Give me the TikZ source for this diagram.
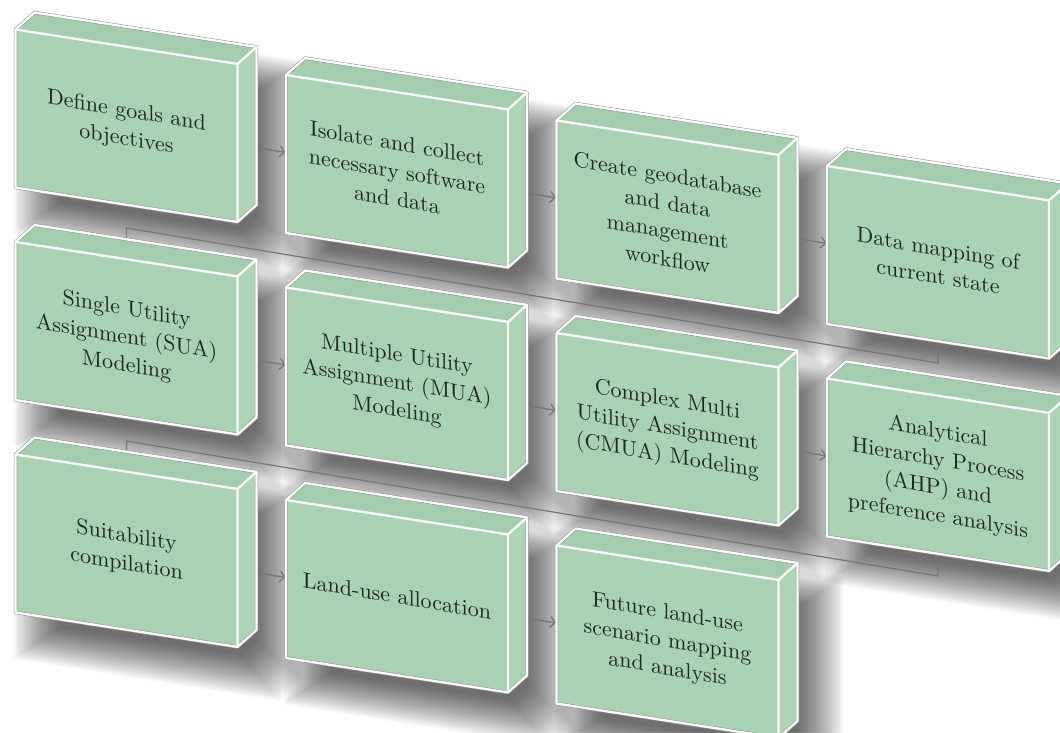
\documentclass[tikz,border=0pt]{standalone}
\usetikzlibrary{arrows.meta}
\DeclareFontFamily{TU}{lmten}{}
\DeclareFontShape{TU}{lmten}{m}{n}{<-> "[lmroman10-regular]:+tlig;"}{}
\definecolor{frontc}{RGB}{168,210,178}
\definecolor{topc}{RGB}{162,206,173}
\definecolor{sidec}{RGB}{172,213,182}
\definecolor{txtc}{RGB}{30,40,30}
\definecolor{conc}{RGB}{118,118,118}
\definecolor{edgec}{RGB}{150,150,150}
\pgfdeclarelayer{bglayer}
\pgfdeclarelayer{shadowlayer}
\pgfdeclarelayer{connlayer}
\pgfsetlayers{bglayer,shadowlayer,connlayer,main}
\tikzset{
  boxtext/.style={align=center, text=txtc, inner sep=0pt,
    font=\fontfamily{lmten}\fontsize{22}{28}\selectfont, yslant=-0.17},
  facefront/.style={fill=frontc},
  facetop/.style={fill=topc},
  faceside/.style={fill=sidec},
  rimouter/.style={draw=edgec, line width=3.4pt, line join=round},
  rimwhite/.style={draw=white, line width=2.3pt, line join=round},
  shadowfill/.style={fill=black, opacity=0.03},
  arr/.style={draw=conc, line width=1.3pt, -{Straight Barb[length=5pt,width=11pt]},
    shorten <=133pt, shorten >=113pt},
  conn/.style={draw=conc, line width=1.2pt, line join=miter}
}
% #1 name, #2 x, #3 y (front top-left corner), #4 text
\newcommand\gbox[4]{%
  \begin{pgfonlayer}{shadowlayer}
    \foreach \rr in {-22,-20,...,24}{
      \fill[shadowfill, shift={(#2+120.5+22,#3-87.7-30)}, xscale={1+\rr/120.5}, yscale={1+\rr/104.7}]
        (-120.5,87.7) -- (-101.5,104.7) -- (120.5,70.3) -- (120.5,-87.7)
        -- (101.5,-104.7) -- (-120.5,-70.3) -- cycle;
    }
  \end{pgfonlayer}
  \begin{scope}[shift={(#2,#3)}]
    \fill[facetop] (0,0) -- (19,17) -- (241,-17.4) -- (222,-34.4) -- cycle;
    \fill[faceside] (222,-34.4) -- (241,-17.4) -- (241,-175.4) -- (222,-192.4) -- cycle;
    \fill[facefront] (0,0) -- (222,-34.4) -- (222,-192.4) -- (0,-158) -- cycle;
    \draw[rimouter] (0,0) -- (19,17) -- (241,-17.4) -- (241,-175.4) -- (222,-192.4) -- (0,-158) -- cycle;
    \draw[rimwhite] (0,0) -- (19,17) -- (241,-17.4) -- (241,-175.4) -- (222,-192.4) -- (0,-158) -- cycle;
    \draw[rimwhite] (0,0) -- (222,-34.4) -- (222,-192.4);
    \draw[rimwhite] (222,-34.4) -- (241,-17.4);
    \node[boxtext] (#1) at (111,-96.2) {#4};
  \end{scope}
}
\begin{document}
\begin{tikzpicture}[x=1pt,y=1pt]
\begin{pgfonlayer}{bglayer}
  \fill[white] (0,0) rectangle (1060,-732);
\end{pgfonlayer}
\useasboundingbox (0,0) rectangle (1060,-732);

\gbox{A}{15.5}{-29.5}{Define goals and\\objectives}
\gbox{B}{286}{-75}{Isolate and collect\\necessary software\\and data}
\gbox{C}{556.5}{-120.5}{Create geodatabase\\and data\\management\\workflow}
\gbox{D}{827}{-166}{Data mapping of\\current state}

\gbox{E}{15.5}{-242}{Single Utility\\Assignment (SUA)\\Modeling}
\gbox{F}{286}{-287.5}{Multiple Utility\\Assignment (MUA)\\Modeling}
\gbox{G}{556.5}{-333}{Complex Multi\\Utility Assignment\\(CMUA) Modeling}
\gbox{H}{827}{-378.5}{Analytical\\Hierarchy Process\\(AHP) and\\preference analysis}

\gbox{I}{15.5}{-454.5}{Suitability\\compilation}
\gbox{J}{286}{-500}{Land-use allocation}
\gbox{K}{556.5}{-545.5}{Future land-use\\scenario mapping\\and analysis}

\coordinate (p1) at (938,-363);
\coordinate (p2) at (126.5,-228);
\coordinate (p3) at (938,-576);
\coordinate (p4) at (126.5,-441);

\begin{pgfonlayer}{connlayer}
  \draw[arr] (A.center) -- (B.center);
  \draw[arr] (B.center) -- (C.center);
  \draw[arr] (C.center) -- (D.center);
  \draw[arr] (E.center) -- (F.center);
  \draw[arr] (F.center) -- (G.center);
  \draw[arr] (G.center) -- (H.center);
  \draw[arr] (I.center) -- (J.center);
  \draw[arr] (J.center) -- (K.center);
  \draw[conn] (D.center) -- (p1) -- (p2) -- (E.center);
  \draw[conn] (H.center) -- (p3) -- (p4) -- (I.center);
\end{pgfonlayer}
\end{tikzpicture}
\end{document}
